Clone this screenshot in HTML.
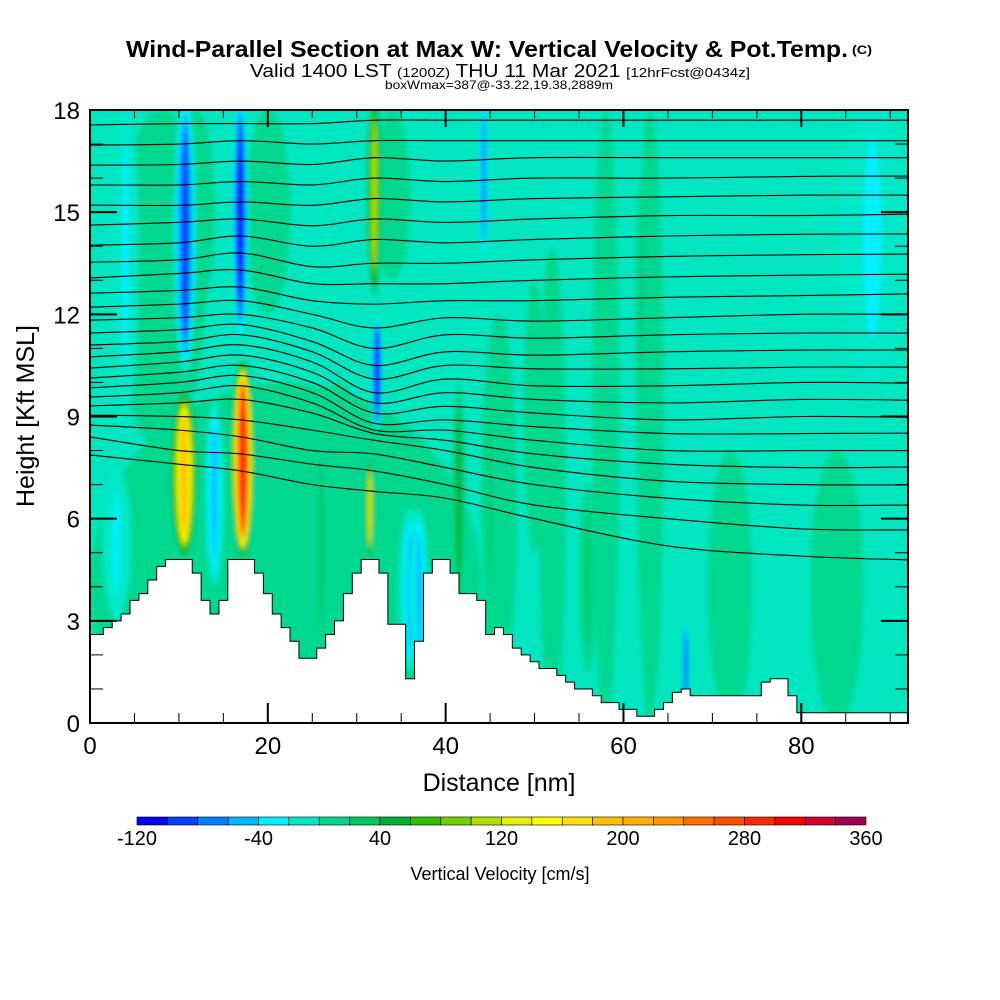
<!DOCTYPE html>
<html><head><meta charset="utf-8"><style>
html,body{margin:0;padding:0;background:#fff;}
svg{display:block;font-family:"Liberation Sans",sans-serif;}
</style></head><body>
<svg id="chart" width="1000" height="1000" viewBox="0 0 1000 1000" xmlns="http://www.w3.org/2000/svg">
<defs>
<clipPath id="plotclip"><rect x="90" y="110" width="818" height="613"/></clipPath>
<filter id="blur" x="-50%" y="-50%" width="200%" height="200%"><feGaussianBlur stdDeviation="2"/></filter>
</defs>
<text x="126" y="57" font-size="23" font-weight="bold" textLength="722" lengthAdjust="spacingAndGlyphs">Wind-Parallel Section at Max W: Vertical Velocity &amp; Pot.Temp.</text>
<text x="852" y="54" font-size="12" font-weight="bold" textLength="20" lengthAdjust="spacingAndGlyphs">(C)</text>
<text x="250" y="77" font-size="18" textLength="500" lengthAdjust="spacingAndGlyphs">Valid 1400 LST <tspan font-size="13">(1200Z)</tspan> THU 11 Mar 2021 <tspan font-size="13">[12hrFcst@0434z]</tspan></text>
<text x="385" y="89" font-size="12" textLength="228" lengthAdjust="spacingAndGlyphs">boxWmax=387@-33.22,19.38,2889m</text>
<g id="plot" clip-path="url(#plotclip)"></g>
<g id="axes"></g>
<g id="cbar"></g>
<text x="499" y="791" font-size="25" text-anchor="middle">Distance [nm]</text>
<text x="0" y="0" font-size="25" text-anchor="middle" transform="translate(34,416) rotate(-90)">Height [Kft MSL]</text>
<text x="500" y="880" font-size="18" text-anchor="middle">Vertical Velocity [cm/s]</text>
</svg>
<script>
// ---- data ----
const cbLevels = [-120,-100,-80,-60,-40,-20,0,20,40,60,80,100,120,140,160,180,200,220,240,260,280,300,320,340,360];
const cbColors = ["#0000ff","#0040ff","#0080ff","#00b8ff","#00f0ff","#00e8c8","#00d890","#00c860","#00b030","#30c000","#70d000","#b0e000","#e0f000","#ffff00","#ffe000","#ffc000","#ffb000","#ff9800","#ff7000","#ff5000","#ff2800","#ff0000","#d00030","#a00050"];
const cbTickLabels = [-120,-40,40,120,200,280,360];
const xTicks = [0,20,40,60,80];
const yTicks = [0,3,6,9,12,15,18];
// terrain height (kft) per 1 nm from 0 to 92
const terrain = [2.6,2.6,2.8,3.0,3.2,3.6,3.8,4.2,4.6,4.8,4.8,4.8,4.4,3.6,3.2,3.6,4.8,4.8,4.8,4.4,3.8,3.2,2.8,2.4,1.9,1.9,2.2,2.6,3.0,3.8,4.4,4.8,4.8,4.4,2.9,2.9,1.3,2.4,4.4,4.8,4.8,4.4,3.8,3.8,3.6,2.6,2.8,2.6,2.2,2.0,1.8,1.6,1.6,1.4,1.2,1.0,1.0,0.8,0.6,0.6,0.4,0.4,0.2,0.2,0.4,0.6,0.9,1.0,0.8,0.8,0.8,0.8,0.8,0.8,0.8,0.8,1.2,1.3,1.3,0.8,0.3,0.3,0.3,0.3,0.3,0.3,0.3,0.3,0.3,0.3,0.3,0.3,0.3];
// streaks (broad patches first): center distance, bottom kft, top kft, peak w (cm/s), half-width nm
const wX    = [22,8,20,12,28,46,52,58,63,72,84,88,4,34,50,62,26,41.5,56,45,36,3,14,10.6,17.2,10.7,16.9,32,32.3,31.5,44.3,37,67];
const wBot  = [-2,8,12,12,-1,1,0,0,0,0,0,10,9,13,5,8,1.5,3,1.5,3,1.5,3,4,4.8,4.8,10.2,11.2,12.5,8.6,4.8,13.5,1.5,0.4];
const wTop  = [10,18,18,18,10,12,14,18,18,8,8,18.5,18.5,18,13,16,9,10,7,10,6.3,7.5,9.5,9.8,10.7,18.5,18.5,18.5,12,7.8,18.5,6.3,3];
const wVal  = [20,20,20,20,20,20,20,20,20,20,20,-40,-40,20,20,40,40,60,40,40,-50,-40,-60,200,300,-100,-110,120,-110,140,-80,-60,-90];
const wHalf = [22,5,2.5,2,4,2,1.5,1.5,1.5,2.5,3,4,1.5,2,1.2,0.6,1.0,0.8,1.0,0.6,1.3,1.6,1.1,1.6,1.4,1.3,1.0,0.9,0.7,0.6,0.6,1.1,0.45];
// isentropes: heights (kft) at sample distances
const thX = [0,10,17,25,32,40,50,65,80,92];
const thetaLines = [
[17.56,17.6,17.6,17.6,17.7,17.7,17.7,17.7,17.7,17.7],
[16.97,17.0,17.1,17.0,17.1,17.1,17.1,17.1,17.1,17.1],
[16.38,16.4,16.5,16.4,16.6,16.5,16.6,16.6,16.6,16.6],
[15.8,15.8,15.9,15.8,16.0,15.9,16.0,16.0,16.05,16.06],
[15.21,15.2,15.3,15.2,15.4,15.3,15.4,15.45,15.5,15.5],
[14.62,14.7,14.8,14.6,14.8,14.7,14.8,14.9,14.9,14.94],
[14.03,14.1,14.3,14.0,14.2,14.1,14.2,14.3,14.35,14.36],
[13.53,13.6,13.8,13.4,13.5,13.5,13.6,13.7,13.75,13.77],
[13.07,13.2,13.3,12.9,12.9,12.9,13.0,13.1,13.15,13.18],
[12.62,12.7,12.8,12.4,12.3,12.4,12.4,12.5,12.55,12.6],
[12.21,12.3,12.4,12.0,11.6,11.9,11.8,11.9,12.0,12.0],
[11.83,11.9,12.0,11.6,11.0,11.4,11.3,11.4,11.45,11.45],
[11.45,11.55,11.7,11.2,10.5,10.9,10.8,10.9,10.95,10.95],
[11.1,11.2,11.4,10.9,10.1,10.5,10.4,10.4,10.45,10.45],
[10.75,10.9,11.1,10.6,9.7,10.1,9.9,9.9,10.0,9.98],
[10.42,10.6,10.8,10.3,9.4,9.7,9.5,9.4,9.5,9.48],
[10.13,10.3,10.5,10.0,9.1,9.3,9.1,8.9,9.0,8.98],
[9.84,10.0,10.2,9.7,8.8,8.9,8.7,8.5,8.5,8.51],
[9.57,9.7,9.9,9.4,8.6,8.6,8.3,8.0,8.0,8.0],
[9.31,9.4,9.5,9.1,8.5,8.3,7.9,7.6,7.5,7.52],
[9.04,9.0,8.9,8.6,8.3,8.0,7.5,7.1,7.0,6.99],
[8.75,8.6,8.4,8.0,7.9,7.5,7.0,6.6,6.4,6.4],
[8.4,8.0,7.9,7.6,7.4,7.0,6.4,6.0,5.7,5.67],
[7.87,7.6,7.4,7.0,6.8,6.6,6.0,5.2,4.9,4.79]
];
// ---- scales ----
const X0=90,X1=908,Y0=723,Y1=110,XMAX=92,YMAX=18;
function sx(d){return X0+(X1-X0)*d/XMAX;}
function sy(h){return Y0-(Y0-Y1)*h/YMAX;}
function colorFor(v){let i=0;while(i<cbColors.length-1&&v>=cbLevels[i+1])i++;return cbColors[i];}
const NS="http://www.w3.org/2000/svg";
function mk(tag,attrs,parent){const e=document.createElementNS(NS,tag);for(const k in attrs)e.setAttribute(k,attrs[k]);parent.appendChild(e);return e;}
const plot=document.getElementById('plot');
const bg=mk('rect',{x:X0,y:Y1,width:X1-X0,height:Y0-Y1,fill:"#00e6c0"},plot);


const wg=mk('g',{filter:"url(#blur)"},plot);


for(let i=0;i<wX.length;i++){
  const v=wVal[i];const step=v>=0?20:-20;const n=Math.max(1,Math.round(Math.abs(v)/20));
  const cx=sx(wX[i]),cy=(sy(wBot[i])+sy(wTop[i]))/2;
  const rx=(sx(wHalf[i])-sx(0)),ry=(sy(wBot[i])-sy(wTop[i]))/2;
  for(let k=1;k<=n;k++){
    const f=n===1?1:1-(k-1)/(n-1)*0.75;
    const col=colorFor(step*k-step/2);
    const el=mk('ellipse',{cx:cx,cy:cy,rx:rx*f,ry:ry*(0.6+0.4*f),fill:col},wg);
    
    
  }
}
// isentropes
const cg=mk('g',{fill:"none",stroke:"#000","stroke-width":"1.1"},plot);


thetaLines.forEach(line=>{
  const pts=line.map((h,j)=>[sx(thX[j]),sy(h)]);
  let d="M"+pts[0][0]+","+pts[0][1];
  for(let j=0;j<pts.length-1;j++){const p0=pts[Math.max(0,j-1)],p1=pts[j],p2=pts[j+1],p3=pts[Math.min(pts.length-1,j+2)];
    d+=` C${p1[0]+(p2[0]-p0[0])/6},${p1[1]+(p2[1]-p0[1])/6} ${p2[0]-(p3[0]-p1[0])/6},${p2[1]-(p3[1]-p1[1])/6} ${p2[0]},${p2[1]}`;}
  const p=mk('path',{d:d},cg);
  
  
});
// terrain
let td="M"+X0+","+Y0;
terrain.forEach((h,i)=>{const xa=sx(Math.max(0,i-0.5)),xb=sx(Math.min(XMAX,i+0.5));td+=` L${xa},${sy(h)} L${xb},${sy(h)}`;});
td+=` L${X1},${Y0} Z`;
const tp=mk('path',{d:td,fill:"#fff",stroke:"#000","stroke-width":"1"},plot);


// axes
const ax=document.getElementById('axes');
const fr=mk('rect',{x:X0,y:Y1,width:X1-X0,height:Y0-Y1,fill:"none",stroke:"#000","stroke-width":"2"},ax);


for(let d=0;d<=XMAX;d+=5){const maj=d%20===0;const x=sx(d);
  const t1=mk('line',{x1:x,x2:x,y1:Y0,y2:Y0-(maj?20:10),stroke:"#000","stroke-width":maj?2:1},ax);
  
  
  const t2=mk('line',{x1:x,x2:x,y1:Y1,y2:Y1+(maj?17:8),stroke:"#000","stroke-width":maj?2:1},ax);
  
  }
for(let h=0;h<=YMAX;h++){const maj=h%3===0;const y=sy(h);
  const t1=mk('line',{x1:X0,x2:X0+(maj?27:13),y1:y,y2:y,stroke:"#000","stroke-width":maj?2:1},ax);
  
  
  const t2=mk('line',{x1:X1,x2:X1-(maj?27:13),y1:y,y2:y,stroke:"#000","stroke-width":maj?2:1},ax);
  
  }
xTicks.forEach(v=>{const t=mk('text',{x:sx(v),y:754,"font-size":24,"text-anchor":"middle"},ax);t.textContent=v;
  
  });
yTicks.forEach(v=>{const t=mk('text',{x:80,y:sy(v)+9,"font-size":24,"text-anchor":"end"},ax);t.textContent=v;
  
  });
// colorbar
const cb=document.getElementById('cbar');
const CB0=137,CB1=866,CBY=817,CBH=8;const bw=(CB1-CB0)/cbColors.length;
cbColors.forEach((c,i)=>{const r=mk('rect',{x:CB0+i*bw,y:CBY,width:bw,height:CBH,fill:c,stroke:"#000","stroke-width":0.6},cb);
  
  });
cbTickLabels.forEach(v=>{const i=cbLevels.indexOf(v);const t=mk('text',{x:CB0+i*bw,y:845,"font-size":20,"text-anchor":"middle"},cb);t.textContent=v;
  
  });
</script>
</body></html>
